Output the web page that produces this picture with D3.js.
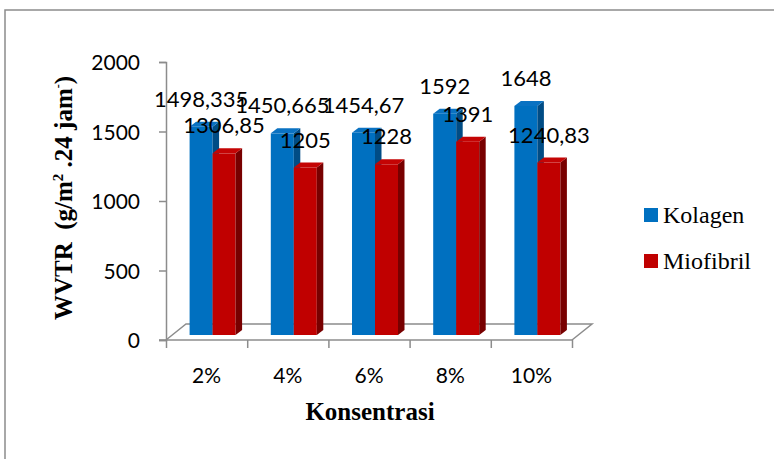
<!DOCTYPE html>
<html>
<head>
<meta charset="utf-8">
<script src="https://cdn.jsdelivr.net/npm/d3@7/dist/d3.min.js"></script>
<style>
  html, body { margin: 0; padding: 0; background: #fff; }
  svg { display: block; }
</style>
</head>
<body>
<svg id="chart" width="774" height="459"></svg>
<script>
// WVTR per concentration, two protein series
const categories = ["2%", "4%", "6%", "8%", "10%"];
const seriesNames = ["Kolagen", "Miofibril"];
const kolagen = [1498.335, 1450.665, 1454.67, 1592, 1648];
const miofibril = [1306.85, 1205, 1228, 1391, 1240.83];
const yTicks = [0, 500, 1000, 1500, 2000];

const colors = {
  Kolagen:   { front: "#0070c0", top: "#0a72c2", side: "#004c85" },
  Miofibril: { front: "#c00000", top: "#c40404", side: "#780000" }
};

const svg = d3.select("#chart");
const axisColor = "#8c8c8c";

// outer frame
svg.append("rect")
  .attr("x", 5).attr("y", 10).attr("width", 800).attr("height", 500)
  .attr("fill", "none").attr("stroke", axisColor).attr("stroke-width", 1.5);

// scales
const y = d3.scaleLinear().domain([0, 2000]).range([340, 62]);
const x = d3.scaleBand().domain(categories).range([166, 572]).padding(0);
const xs = d3.scaleBand().domain(seriesNames).range([-23, 23]).padding(0);

// oblique projection: floor depth, bar front offset and bar depth
const floor = { dx: 20, dy: -16 };
const front = { dx: 6, dy: -5 };
const depth = { dx: 6.5, dy: -5 };

// floor outline (back and right edges)
const fl = [[166, 340], [166 + floor.dx, 340 + floor.dy], [572 + floor.dx, 340 + floor.dy], [572, 340]];
svg.append("path")
  .attr("d", d3.line()(fl))
  .attr("fill", "none").attr("stroke", axisColor).attr("stroke-width", 1.5);

// y axis
const yAxis = svg.append("g")
  .attr("transform", "translate(166,0)")
  .call(d3.axisLeft(y).tickValues(yTicks).tickSize(7).tickPadding(18).tickFormat(d3.format("d")));
yAxis.select(".domain").attr("stroke", axisColor).attr("stroke-width", 1.5);
yAxis.selectAll(".tick line").attr("stroke", axisColor).attr("stroke-width", 1.5);
yAxis.selectAll(".tick text")
  .attr("font-family", "Lato, 'Noto Sans', sans-serif")
  .attr("font-size", 21).attr("fill", "#000").attr("x", -26).attr("dy", "0.36em");

// x axis: tick marks on category boundaries
const xEdge = d3.scaleLinear().domain([0, categories.length]).range([166, 572]);
const xAxis = svg.append("g")
  .attr("transform", "translate(0,340)")
  .call(d3.axisBottom(xEdge).tickValues(d3.range(categories.length + 1)).tickSize(8).tickFormat(""))
xAxis.select(".domain").attr("stroke", axisColor).attr("stroke-width", 1.5)
  .attr("d", "M159,0H572");
xAxis.selectAll(".tick line").attr("stroke", axisColor).attr("stroke-width", 1.5);

// category labels
const xLab = svg.append("g")
  .attr("transform", "translate(0,383)")
  .call(d3.axisBottom(x).tickSize(0).tickPadding(0));
xLab.select(".domain").remove();
xLab.selectAll(".tick text")
  .attr("font-family", "Lato, 'Noto Sans', sans-serif")
  .attr("font-size", 21).attr("fill", "#000").attr("y", 0).attr("dy", 0);

// bars
const rows = categories.map((c, i) => ({ cat: c, values: [
  { s: "Kolagen", v: kolagen[i] },
  { s: "Miofibril", v: miofibril[i] }
]}));

const barG = svg.append("g");
rows.forEach(r => {
  r.values.forEach(d => {
    const x0 = x(r.cat) + x.bandwidth() / 2 + xs(d.s) + front.dx;
    const x1 = x0 + xs.bandwidth();
    const yt = y(d.v) + front.dy;
    const yb = y(0) + front.dy;
    const c = colors[d.s];
    const g = barG.append("g");
    g.append("rect").attr("x", x0).attr("y", yt).attr("width", x1 - x0).attr("height", yb - yt)
      .attr("fill", c.front);
    g.append("path").attr("d", d3.line()([[x1, yt], [x1 + depth.dx, yt + depth.dy], [x1 + depth.dx, yb + depth.dy], [x1, yb]]) + "Z")
      .attr("fill", c.side);
    g.append("path").attr("d", d3.line()([[x0, yt], [x1, yt], [x1 + depth.dx, yt + depth.dy], [x0 + depth.dx, yt + depth.dy]]) + "Z")
      .attr("fill", c.top);
  });
});

// value labels
const fmt = v => String(v).replace(".", ",");
const labG = svg.append("g");
seriesNames.forEach((s, si) => {
  rows.forEach(r => {
    const d = r.values[si];
    const cx = x(r.cat) + x.bandwidth() / 2 + xs(d.s) + xs.bandwidth() / 2 + front.dx;
    labG.append("text")
      .attr("x", cx).attr("y", y(d.v) + front.dy - 20)
      .attr("text-anchor", "middle")
      .attr("font-family", "Lato, 'Noto Sans', sans-serif")
      .attr("font-size", 22).attr("fill", "#000")
      .text(fmt(d.v));
  });
});

// axis titles
const yTitle = svg.append("text")
  .attr("transform", "translate(72,198) rotate(-90)")
  .attr("text-anchor", "middle")
  .attr("font-family", "'Liberation Serif', 'Times New Roman', serif")
  .attr("font-weight", "bold").attr("font-size", 25).attr("fill", "#000");
yTitle.append("tspan").text("WVTR\u00a0\u00a0(g/m");
yTitle.append("tspan").attr("font-size", 15).attr("dy", -9).text("2");
yTitle.append("tspan").attr("dy", 9).text(" .24 jam");
yTitle.append("tspan").attr("font-size", 12).attr("dy", -10).text("-");
yTitle.append("tspan").attr("dy", 10).text(")");

svg.append("text")
  .attr("x", 370).attr("y", 420).attr("text-anchor", "middle")
  .attr("font-family", "'Liberation Serif', 'Times New Roman', serif")
  .attr("font-weight", "bold").attr("font-size", 25).attr("fill", "#000")
  .text("Konsentrasi");

// legend
const legend = svg.append("g");
seriesNames.forEach((s, i) => {
  const ly = 208 + i * 46;
  legend.append("rect").attr("x", 644).attr("y", ly).attr("width", 14).attr("height", 14)
    .attr("fill", colors[s].front);
  legend.append("text").attr("x", 663).attr("y", ly + 15)
    .attr("font-family", "'Liberation Serif', 'Times New Roman', serif")
    .attr("font-size", 24).attr("fill", "#000")
    .text(s);
});
</script>
</body>
</html>
